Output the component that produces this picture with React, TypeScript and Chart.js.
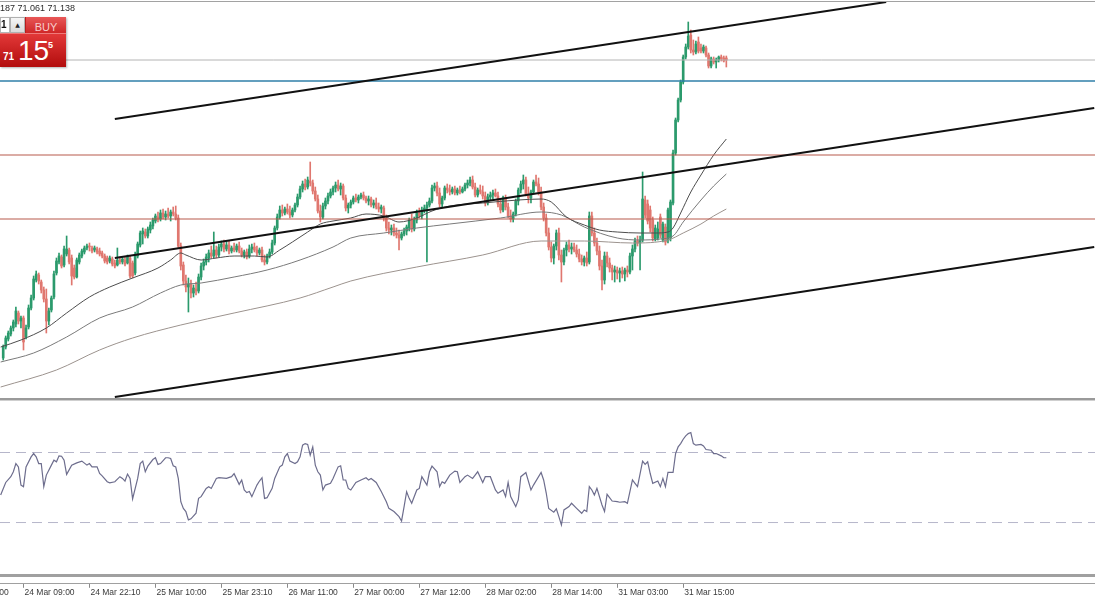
import React, { useEffect, useRef } from 'react';
import { Chart, registerables } from 'chart.js';

Chart.register(...registerables);

// ---- axis range (bar index units, M30 bars) ----
const X_MIN = -1.26;
const X_MAX = 430.3;
const PRICE_MIN = 67.77;
const PRICE_MAX = 71.75;

// ---- time axis ----
const tickBars = [-18, 8, 34, 60, 86, 112, 138, 164, 190, 216, 242, 268];
const tickLabels = [
  '23 Mar 20:00', '24 Mar 09:00', '24 Mar 22:10', '25 Mar 10:00', '25 Mar 23:10', '26 Mar 11:00',
  '27 Mar 00:00', '27 Mar 12:00', '28 Mar 02:00', '28 Mar 14:00', '31 Mar 03:00', '31 Mar 15:00',
];

// ---- candles (bar 0 .. 285) ----
const barOpen = [
  68.17, 68.28, 68.36, 68.41, 68.47, 68.51, 68.62, 68.54, 68.57, 68.38,
  68.48, 68.67, 68.77, 68.95, 69.00, 68.93, 68.85, 68.76, 68.54, 68.65,
  68.78, 69.02, 69.13, 69.18, 69.10, 69.21, 69.25, 69.17, 69.07, 68.98,
  69.13, 69.19, 69.23, 69.27, 69.29, 69.27, 69.25, 69.26, 69.24, 69.22,
  69.19, 69.17, 69.14, 69.16, 69.12, 69.10, 69.15, 69.13, 69.15, 69.12,
  69.17, 69.12, 69.02, 69.19, 69.30, 69.41, 69.43, 69.39, 69.45, 69.49,
  69.54, 69.58, 69.56, 69.62, 69.58, 69.61, 69.59, 69.63, 69.61, 69.57,
  69.29, 69.10, 68.94, 68.88, 68.91, 68.82, 68.86, 68.84, 68.98, 69.09,
  69.13, 69.17, 69.22, 69.19, 69.25, 69.20, 69.28, 69.31, 69.26, 69.30,
  69.24, 69.27, 69.25, 69.29, 69.24, 69.20, 69.23, 69.19, 69.26, 69.28,
  69.25, 69.22, 69.25, 69.15, 69.13, 69.19, 69.23, 69.32, 69.47, 69.58,
  69.65, 69.62, 69.66, 69.63, 69.60, 69.65, 69.70, 69.78, 69.86, 69.91,
  69.88, 69.94, 69.92, 69.84, 69.76, 69.64, 69.58, 69.69, 69.74, 69.79,
  69.83, 69.87, 69.90, 69.86, 69.89, 69.77, 69.67, 69.70, 69.73, 69.77,
  69.75, 69.78, 69.80, 69.77, 69.74, 69.76, 69.70, 69.72, 69.68, 69.66,
  69.67, 69.57, 69.47, 69.45, 69.47, 69.42, 69.40, 69.37, 69.41, 69.44,
  69.47, 69.55, 69.46, 69.55, 69.62, 69.59, 69.65, 69.67, 69.70, 69.74,
  69.87, 69.89, 69.82, 69.71, 69.77, 69.87, 69.85, 69.83, 69.86, 69.82,
  69.85, 69.83, 69.86, 69.90, 69.92, 69.95, 69.88, 69.80, 69.85, 69.83,
  69.79, 69.72, 69.78, 69.80, 69.82, 69.79, 69.71, 69.65, 69.77, 69.68,
  69.59, 69.56, 69.61, 69.74, 69.85, 69.91, 69.95, 69.81, 69.77, 69.83,
  69.93, 69.91, 69.83, 69.68, 69.57, 69.42, 69.28, 69.17, 69.29, 69.42,
  69.20, 69.13, 69.25, 69.30, 69.26, 69.28, 69.25, 69.21, 69.16, 69.13,
  69.17, 69.13, 69.59, 69.42, 69.32, 69.24, 69.09, 68.95, 69.19, 69.12,
  69.07, 69.03, 69.05, 69.02, 69.04, 69.01, 69.05, 69.03, 69.19, 69.26,
  69.34, 69.32, 69.35, 69.75, 69.71, 69.65, 69.55, 69.36, 69.37, 69.58,
  69.35, 69.48, 69.35, 69.37, 69.72, 70.22, 70.55, 70.75, 70.93, 71.18,
  71.28, 71.40, 71.25, 71.23, 71.33, 71.27, 71.24, 71.27, 71.20, 71.09,
  71.16, 71.13, 71.15, 71.18, 71.17, 71.17,
];
const barHigh = [
  68.30, 68.39, 68.44, 68.49, 68.55, 68.68, 68.64, 68.59, 68.59, 68.50,
  68.70, 68.80, 68.99, 69.04, 69.02, 68.95, 68.88, 68.86, 68.67, 68.79,
  69.04, 69.17, 69.22, 69.20, 69.29, 69.39, 69.27, 69.20, 69.10, 69.17,
  69.22, 69.26, 69.29, 69.31, 69.32, 69.29, 69.29, 69.28, 69.27, 69.24,
  69.21, 69.19, 69.19, 69.18, 69.15, 69.27, 69.18, 69.18, 69.18, 69.20,
  69.19, 69.14, 69.23, 69.33, 69.44, 69.47, 69.46, 69.48, 69.53, 69.57,
  69.61, 69.63, 69.65, 69.66, 69.64, 69.67, 69.65, 69.68, 69.69, 69.60,
  69.32, 69.13, 69.00, 68.97, 68.95, 68.90, 68.93, 69.01, 69.12, 69.16,
  69.21, 69.25, 69.29, 69.43, 69.29, 69.31, 69.34, 69.35, 69.33, 69.34,
  69.29, 69.32, 69.31, 69.33, 69.27, 69.25, 69.26, 69.30, 69.31, 69.32,
  69.29, 69.27, 69.28, 69.20, 69.21, 69.26, 69.35, 69.49, 69.61, 69.69,
  69.70, 69.68, 69.71, 69.69, 69.67, 69.72, 69.81, 69.89, 69.94, 69.96,
  69.98, 70.13, 69.95, 69.88, 69.80, 69.70, 69.72, 69.77, 69.82, 69.86,
  69.89, 69.93, 69.95, 69.92, 69.91, 69.80, 69.72, 69.75, 69.79, 69.81,
  69.80, 69.82, 69.83, 69.79, 69.79, 69.78, 69.75, 69.77, 69.72, 69.70,
  69.69, 69.60, 69.53, 69.50, 69.51, 69.47, 69.45, 69.43, 69.47, 69.50,
  69.57, 69.61, 69.58, 69.65, 69.67, 69.68, 69.70, 69.73, 69.77, 69.90,
  69.92, 69.93, 69.87, 69.79, 69.89, 69.91, 69.90, 69.88, 69.89, 69.87,
  69.89, 69.88, 69.92, 69.95, 69.98, 69.99, 69.92, 69.87, 69.90, 69.89,
  69.83, 69.81, 69.83, 69.85, 69.86, 69.83, 69.75, 69.79, 69.80, 69.72,
  69.65, 69.63, 69.76, 69.87, 69.94, 70.00, 69.98, 69.88, 69.85, 69.95,
  70.00, 69.97, 69.88, 69.72, 69.61, 69.47, 69.33, 69.31, 69.45, 69.47,
  69.25, 69.27, 69.33, 69.35, 69.32, 69.32, 69.30, 69.26, 69.20, 69.19,
  69.23, 69.63, 69.63, 69.47, 69.37, 69.29, 69.15, 69.23, 69.23, 69.17,
  69.10, 69.09, 69.08, 69.07, 69.08, 69.07, 69.09, 69.22, 69.30, 69.37,
  69.39, 69.39, 70.03, 69.79, 69.75, 69.69, 69.58, 69.50, 69.53, 69.61,
  69.53, 69.51, 69.67, 69.75, 70.25, 70.57, 70.77, 70.95, 71.20, 71.31,
  71.53, 71.45, 71.35, 71.34, 71.38, 71.31, 71.30, 71.29, 71.22, 71.18,
  71.18, 71.17, 71.19, 71.20, 71.19, 71.19,
];
const barLow = [
  68.15, 68.26, 68.34, 68.39, 68.44, 68.48, 68.51, 68.47, 68.25, 68.36,
  68.46, 68.65, 68.75, 68.93, 68.91, 68.82, 68.73, 68.42, 68.50, 68.63,
  68.76, 69.00, 69.11, 69.07, 69.08, 69.19, 69.11, 68.90, 68.96, 68.97,
  69.11, 69.17, 69.21, 69.25, 69.24, 69.22, 69.23, 69.21, 69.19, 69.17,
  69.12, 69.11, 69.12, 69.09, 69.07, 69.09, 69.11, 69.11, 69.09, 69.11,
  68.97, 68.97, 69.00, 69.17, 69.28, 69.31, 69.37, 69.37, 69.42, 69.46,
  69.52, 69.53, 69.54, 69.56, 69.55, 69.57, 69.54, 69.59, 69.55, 69.27,
  69.05, 68.90, 68.83, 68.63, 68.77, 68.78, 68.80, 68.82, 68.95, 69.05,
  69.10, 69.13, 69.17, 69.17, 69.17, 69.18, 69.24, 69.23, 69.24, 69.21,
  69.22, 69.23, 69.23, 69.22, 69.18, 69.17, 69.16, 69.17, 69.22, 69.23,
  69.19, 69.20, 69.13, 69.10, 69.11, 69.17, 69.21, 69.30, 69.45, 69.56,
  69.59, 69.60, 69.61, 69.57, 69.58, 69.63, 69.68, 69.76, 69.83, 69.85,
  69.86, 69.89, 69.81, 69.74, 69.62, 69.53, 69.56, 69.66, 69.71, 69.77,
  69.80, 69.83, 69.84, 69.80, 69.75, 69.64, 69.62, 69.67, 69.71, 69.73,
  69.72, 69.76, 69.75, 69.72, 69.70, 69.68, 69.67, 69.66, 69.63, 69.62,
  69.54, 69.44, 69.41, 69.40, 69.39, 69.37, 69.25, 69.35, 69.39, 69.40,
  69.44, 69.43, 69.44, 69.52, 69.57, 69.56, 69.62, 69.13, 69.68, 69.72,
  69.84, 69.79, 69.68, 69.68, 69.75, 69.82, 69.80, 69.81, 69.80, 69.80,
  69.81, 69.82, 69.84, 69.87, 69.89, 69.86, 69.78, 69.78, 69.81, 69.76,
  69.69, 69.70, 69.75, 69.76, 69.78, 69.68, 69.62, 69.63, 69.65, 69.57,
  69.53, 69.53, 69.59, 69.70, 69.82, 69.86, 69.79, 69.72, 69.72, 69.81,
  69.89, 69.80, 69.65, 69.54, 69.39, 69.25, 69.13, 69.11, 69.25, 69.15,
  68.93, 69.10, 69.19, 69.23, 69.21, 69.23, 69.18, 69.13, 69.10, 69.09,
  69.09, 69.11, 69.39, 69.29, 69.20, 69.05, 68.85, 68.91, 69.08, 69.03,
  68.95, 68.93, 68.96, 68.93, 68.97, 68.94, 68.98, 69.01, 69.05, 69.23,
  69.29, 69.05, 69.33, 69.57, 69.51, 69.43, 69.34, 69.34, 69.35, 69.37,
  69.33, 69.30, 69.32, 69.34, 69.70, 70.20, 70.53, 70.73, 70.91, 71.16,
  71.26, 71.22, 71.20, 71.21, 71.22, 71.22, 71.22, 71.18, 71.07, 71.07,
  71.11, 71.07, 71.13, 71.14, 71.13, 71.08,
];
const barClose = [
  68.28, 68.37, 68.42, 68.47, 68.53, 68.64, 68.54, 68.57, 68.33, 68.47,
  68.67, 68.77, 68.96, 69.01, 68.94, 68.85, 68.76, 68.54, 68.64, 68.77,
  69.01, 69.14, 69.19, 69.09, 69.26, 69.26, 69.13, 68.99, 68.98, 69.15,
  69.20, 69.24, 69.27, 69.29, 69.28, 69.24, 69.27, 69.23, 69.21, 69.19,
  69.14, 69.13, 69.17, 69.11, 69.09, 69.15, 69.13, 69.16, 69.11, 69.18,
  68.99, 68.99, 69.20, 69.31, 69.42, 69.44, 69.39, 69.46, 69.50, 69.55,
  69.59, 69.56, 69.62, 69.58, 69.61, 69.59, 69.63, 69.61, 69.57, 69.29,
  69.09, 68.94, 68.88, 68.91, 68.82, 68.87, 68.84, 68.98, 69.09, 69.13,
  69.18, 69.22, 69.19, 69.25, 69.20, 69.28, 69.31, 69.26, 69.30, 69.24,
  69.27, 69.25, 69.29, 69.24, 69.20, 69.23, 69.18, 69.26, 69.28, 69.25,
  69.22, 69.25, 69.15, 69.13, 69.19, 69.23, 69.32, 69.47, 69.58, 69.65,
  69.62, 69.66, 69.63, 69.60, 69.65, 69.70, 69.78, 69.86, 69.91, 69.88,
  69.95, 69.92, 69.84, 69.76, 69.64, 69.58, 69.69, 69.74, 69.79, 69.83,
  69.87, 69.90, 69.86, 69.89, 69.77, 69.67, 69.70, 69.73, 69.77, 69.75,
  69.78, 69.80, 69.77, 69.74, 69.76, 69.70, 69.72, 69.68, 69.66, 69.68,
  69.57, 69.47, 69.45, 69.47, 69.42, 69.40, 69.37, 69.41, 69.44, 69.48,
  69.55, 69.46, 69.55, 69.62, 69.59, 69.65, 69.67, 69.70, 69.74, 69.87,
  69.89, 69.82, 69.71, 69.77, 69.87, 69.85, 69.83, 69.86, 69.82, 69.85,
  69.83, 69.86, 69.90, 69.92, 69.95, 69.88, 69.80, 69.85, 69.83, 69.79,
  69.72, 69.78, 69.80, 69.82, 69.79, 69.71, 69.65, 69.77, 69.68, 69.59,
  69.56, 69.61, 69.74, 69.85, 69.91, 69.95, 69.81, 69.77, 69.83, 69.93,
  69.91, 69.83, 69.68, 69.57, 69.42, 69.28, 69.17, 69.29, 69.42, 69.20,
  69.13, 69.25, 69.30, 69.26, 69.28, 69.25, 69.21, 69.16, 69.13, 69.17,
  69.12, 69.59, 69.42, 69.32, 69.24, 69.09, 68.95, 69.19, 69.12, 69.07,
  69.03, 69.05, 69.02, 69.04, 69.01, 69.05, 69.03, 69.19, 69.26, 69.34,
  69.32, 69.35, 69.76, 69.60, 69.54, 69.47, 69.37, 69.47, 69.46, 69.40,
  69.51, 69.33, 69.65, 69.73, 70.22, 70.55, 70.75, 70.93, 71.18, 71.28,
  71.39, 71.25, 71.23, 71.31, 71.24, 71.24, 71.28, 71.20, 71.09, 71.16,
  71.13, 71.15, 71.18, 71.16, 71.14, 71.15,
];

// ---- moving averages (bar index, price) ----
const maFastBars = [-1, 7, 17, 25, 34, 42, 51, 61, 66, 70, 72, 78, 84, 91, 99, 104, 109, 114, 120, 125, 130, 137, 143, 150, 156, 163, 169, 176, 189, 203, 212, 216, 222, 229, 235, 242, 251, 257, 262, 264, 267, 271, 275, 280, 285];
const maFast = [68.28, 68.35, 68.47, 68.62, 68.78, 68.88, 68.97, 69.07, 69.15, 69.22, 69.20, 69.15, 69.17, 69.19, 69.19, 69.18, 69.25, 69.33, 69.43, 69.51, 69.54, 69.57, 69.61, 69.59, 69.53, 69.57, 69.64, 69.69, 69.72, 69.75, 69.76, 69.73, 69.58, 69.50, 69.45, 69.43, 69.42, 69.42, 69.43, 69.47, 69.62, 69.83, 70.00, 70.20, 70.36];
const maMidBars = [-1, 12, 25, 38, 51, 62, 70, 78, 91, 104, 117, 130, 137, 150, 163, 176, 196, 212, 220, 229, 242, 251, 259, 264, 268, 275, 280, 285];
const maMid = [68.13, 68.22, 68.38, 68.57, 68.68, 68.82, 68.90, 68.92, 68.98, 69.05, 69.15, 69.28, 69.37, 69.42, 69.47, 69.51, 69.57, 69.63, 69.60, 69.48, 69.37, 69.35, 69.36, 69.39, 69.53, 69.75, 69.89, 70.01];
const maSlowBars = [-1, 21, 38, 51, 70, 91, 117, 130, 137, 163, 189, 212, 229, 248, 262, 268, 275, 280, 285];
const maSlow = [67.88, 68.05, 68.25, 68.37, 68.50, 68.62, 68.77, 68.88, 68.94, 69.08, 69.20, 69.34, 69.34, 69.32, 69.35, 69.42, 69.51, 69.59, 69.66];

// ---- channel trend lines (start/end bar, start/end price) ----
const upperLineBars = [44, 348];
const upperLinePrices = [70.56, 71.73];
const midLineBars = [44, 430];
const midLinePrices = [69.17, 70.67];
const lowLineBars = [44, 430];
const lowLinePrices = [67.78, 69.28];

// ---- horizontal price levels: bid, blue, red, red ----
const levelPrices = [71.15, 70.94, 70.20, 69.56];

// ---- RSI ----
const rsiBars = [
  -1, 1, 3, 4, 5, 6, 7, 8, 9, 11, 12, 13, 14, 15, 16, 17, 19, 20, 21, 22,
  23, 24, 25, 27, 29, 31, 33, 34, 35, 37, 38, 39, 41, 42, 44, 46, 47, 48, 49, 50,
  51, 53, 54, 55, 56, 57, 59, 60, 61, 62, 64, 65, 66, 67, 68, 69, 70, 71, 72, 73,
  74, 76, 77, 78, 80, 81, 82, 84, 85, 88, 90, 91, 93, 94, 95, 96, 97, 98, 100, 101,
  102, 103, 104, 106, 107, 109, 110, 111, 112, 113, 115, 116, 117, 118, 119, 120, 121, 122, 123, 124,
  125, 126, 127, 129, 130, 132, 133, 134, 135, 136, 137, 139, 141, 143, 144, 145, 147, 149, 151, 152,
  154, 156, 157, 158, 159, 160, 161, 163, 164, 165, 167, 168, 169, 171, 172, 173, 174, 176, 178, 179,
  180, 182, 183, 185, 186, 187, 189, 190, 192, 194, 195, 197, 198, 199, 200, 202, 203, 204, 206, 208,
  209, 212, 213, 214, 215, 217, 218, 219, 220, 221, 223, 224, 226, 228, 229, 230, 231, 232, 233, 234,
  236, 237, 238, 240, 242, 243, 245, 246, 247, 248, 249, 250, 252, 253, 254, 255, 256, 258, 259, 260,
  261, 262, 264, 265, 266, 267, 268, 269, 270, 271, 272, 273, 275, 276, 277, 279, 280, 281, 283, 284,
  285,
];
const rsiValues = [
  45.7, 52.9, 56.2, 59.0, 63.7, 61.8, 51.4, 50.5, 61.8, 67.5, 69.4, 67.5, 63.7, 63.7, 50.5, 57.1, 62.8, 65.6, 64.7, 68.1,
  67.9, 65.6, 57.5, 62.8, 64.1, 65.1, 62.8, 63.7, 61.8, 61.8, 58.1, 56.7, 53.3, 52.7, 53.3, 56.2, 55.2, 53.7, 57.7, 55.2,
  43.5, 55.2, 63.7, 65.1, 59.0, 62.2, 66.0, 67.0, 63.2, 63.7, 67.0, 67.0, 66.6, 62.4, 61.8, 55.2, 41.9, 38.1, 36.3, 31.5,
  32.1, 35.3, 43.8, 44.8, 49.5, 50.5, 49.5, 55.2, 55.6, 55.2, 56.2, 57.9, 51.8, 54.3, 48.6, 47.1, 47.7, 44.8, 51.4, 53.7,
  55.6, 43.8, 44.2, 49.5, 55.2, 61.8, 62.8, 67.5, 69.4, 65.1, 63.7, 64.7, 67.5, 74.2, 75.1, 74.6, 68.5, 73.2, 62.8, 59.0,
  57.1, 48.6, 51.4, 52.4, 55.2, 61.8, 62.4, 54.3, 54.3, 49.5, 48.6, 52.9, 54.3, 55.6, 54.3, 55.2, 52.9, 47.7, 41.9, 38.1,
  36.3, 33.4, 30.9, 39.1, 47.6, 43.8, 41.0, 48.6, 49.5, 56.2, 51.4, 59.0, 62.2, 59.0, 50.5, 53.3, 52.4, 57.1, 59.4, 59.0,
  52.9, 56.2, 57.1, 55.2, 57.1, 59.0, 52.9, 56.2, 56.2, 48.6, 46.7, 48.6, 44.8, 52.9, 44.8, 39.1, 42.9, 56.2, 58.6, 48.6,
  51.4, 58.6, 54.3, 47.0, 38.0, 35.9, 37.8, 33.4, 28.7, 37.2, 39.1, 41.0, 38.1, 35.3, 37.2, 36.3, 50.5, 48.6, 45.7, 49.5,
  40.0, 36.3, 46.1, 42.3, 41.9, 41.6, 41.9, 41.0, 47.6, 54.3, 52.4, 50.5, 65.1, 63.2, 64.7, 58.0, 52.4, 53.7, 50.5, 55.2,
  50.5, 58.6, 58.6, 69.4, 73.2, 75.1, 77.6, 79.5, 80.8, 81.4, 75.1, 74.2, 74.6, 73.8, 71.7, 71.3, 69.4, 69.4, 68.1, 67.0,
  67.0,
];
const rsiLevels = [70, 30];

const UP = '#2b9a6c';
const DOWN = '#e0776f';
const FONT = "'Liberation Sans', Arial, sans-serif";

const pts = (xs: number[], ys: number[]) => xs.map((x, k) => ({ x, y: ys[k] }));
const flat = (v: number) => [{ x: X_MIN, y: v }, { x: X_MAX, y: v }];

export default function App() {
  const priceRef = useRef<HTMLCanvasElement>(null);
  const rsiRef = useRef<HTMLCanvasElement>(null);

  useEffect(() => {
    const idx = barOpen.map((_, i) => i);
    const colors = idx.map((i) => (barClose[i] >= barOpen[i] ? UP : DOWN));
    const levelColors = ['#b4b4b4', '#2f7fa8', '#b85a4d', '#b85a4d'];
    const levelWidths = [1, 1.3, 1.2, 1.2];

    const lineDs = (data: any, color: string, width: number, order: number, extra: any = {}) => ({
      type: 'line' as const,
      data,
      borderColor: color,
      borderWidth: width,
      pointRadius: 0,
      fill: false,
      order,
      ...extra,
    });

    const priceChart = new Chart(priceRef.current as HTMLCanvasElement, {
      type: 'bar',
      data: {
        datasets: [
          {
            type: 'bar',
            data: idx.map((i) => ({ x: i, y: [barLow[i], barHigh[i]] })) as any,
            backgroundColor: colors,
            borderWidth: 0,
            barThickness: 1,
            grouped: false,
            order: 9,
          },
          {
            type: 'bar',
            data: idx.map((i) => ({ x: i, y: [barOpen[i], barClose[i]] })) as any,
            backgroundColor: colors,
            borderWidth: 0,
            barThickness: 2,
            minBarLength: 1,
            grouped: false,
            order: 8,
          },
          lineDs(pts(maSlowBars, maSlow), '#9c938e', 1, 7, { cubicInterpolationMode: 'monotone' }),
          lineDs(pts(maMidBars, maMid), '#7a7a7a', 1, 6, { cubicInterpolationMode: 'monotone' }),
          lineDs(pts(maFastBars, maFast), '#4d4d4d', 1, 5, { cubicInterpolationMode: 'monotone' }),
          ...levelPrices.map((p, k) => lineDs(flat(p), levelColors[k], levelWidths[k], 4)),
          lineDs(pts(upperLineBars, upperLinePrices), '#111111', 2, 1),
          lineDs(pts(midLineBars, midLinePrices), '#111111', 2, 1),
          lineDs(pts(lowLineBars, lowLinePrices), '#111111', 2, 1),
        ] as any,
      },
      options: {
        responsive: false,
        maintainAspectRatio: false,
        animation: false,
        events: [],
        layout: { padding: 0 },
        plugins: { legend: { display: false }, tooltip: { enabled: false } },
        scales: {
          x: { type: 'linear', min: X_MIN, max: X_MAX, display: false, offset: false },
          y: { type: 'linear', min: PRICE_MIN, max: PRICE_MAX, display: false },
        },
      } as any,
    });

    const rsiChart = new Chart(rsiRef.current as HTMLCanvasElement, {
      type: 'line',
      data: {
        datasets: [
          lineDs(pts(rsiBars, rsiValues), '#6d6d8d', 1.2, 1),
          ...rsiLevels.map((v) => lineDs(flat(v), '#b6b6ca', 1, 2, { borderDash: [10, 6] })),
        ] as any,
      },
      options: {
        responsive: false,
        maintainAspectRatio: false,
        animation: false,
        events: [],
        layout: { padding: 0 },
        plugins: { legend: { display: false }, tooltip: { enabled: false } },
        scales: {
          x: {
            type: 'linear',
            min: X_MIN,
            max: X_MAX,
            position: 'bottom',
            afterBuildTicks: (axis: any) => {
              axis.ticks = tickBars.map((v) => ({ value: v }));
            },
            afterFit: (axis: any) => {
              axis.paddingLeft = 0;
              axis.paddingRight = 0;
            },
            ticks: {
              autoSkip: false,
              maxRotation: 0,
              minRotation: 0,
              align: 'start',
              padding: 0,
              labelOffset: 1,
              color: '#3a3a3a',
              font: { family: FONT, size: 8.5 },
              callback: (v: any) => {
                const k = tickBars.indexOf(Number(v));
                return k >= 0 ? tickLabels[k] : '';
              },
            },
            grid: {
              display: true,
              drawOnChartArea: false,
              drawTicks: true,
              tickLength: 4,
              color: '#8a8a8a',
              tickColor: '#8a8a8a',
            },
            border: { display: true, color: '#a0a0a0', width: 1 },
          },
          y: { type: 'linear', min: -5, max: 100, display: false },
        },
      } as any,
    });

    return () => {
      priceChart.destroy();
      rsiChart.destroy();
    };
  }, []);

  const abs = (s: React.CSSProperties): React.CSSProperties => ({ position: 'absolute', ...s });

  return (
    <div style={{ position: 'fixed', left: 0, top: 0, width: 1095, height: 600, background: '#fff', overflow: 'hidden', fontFamily: FONT }}>
      <canvas ref={priceRef} width={1095} height={398} style={abs({ left: 0, top: 0, display: 'block' })} />
      <canvas ref={rsiRef} width={1095} height={198} style={abs({ left: 0, top: 400, display: 'block' })} />

      {/* frame / window separators */}
      <div style={abs({ left: 0, top: 1, width: 1095, height: 1, background: '#a2a2a2' })} />
      <div style={abs({ left: 0, top: 398, width: 1095, height: 2, background: '#9a9a9a' })} />
      <div style={abs({ left: 0, top: 400, width: 1095, height: 1, background: '#cfcfcf' })} />
      <div style={abs({ left: 0, top: 574, width: 1095, height: 3, background: '#a0a0a0' })} />

      {/* header text */}
      <div style={abs({ left: 0, top: 3, fontSize: 9, lineHeight: '10px', color: '#2a2a2a', whiteSpace: 'nowrap' })}>187 71.061 71.138</div>

      {/* one-click trading widget */}
      <div style={abs({ left: 0, top: 17, width: 66, height: 50, boxShadow: '1px 1px 2px rgba(0,0,0,0.3)' })}>
        <div style={abs({ left: 0, top: 0, width: 10, height: 16, background: '#fff', border: '1px solid #b5b5b5', boxSizing: 'border-box', overflow: 'hidden' })}>
          <span style={abs({ left: 0, top: 2, fontSize: 10, fontWeight: 'bold', lineHeight: '10px', color: '#111' })}>1</span>
        </div>
        <div style={abs({ left: 10, top: 0, width: 15, height: 16, background: 'linear-gradient(#f6f6f6, #dadada)', border: '1px solid #b0b0b0', boxSizing: 'border-box', textAlign: 'center', fontFamily: "'DejaVu Sans', sans-serif", fontSize: 6, lineHeight: '14px', color: '#222' })}>▲</div>
        <div style={abs({ left: 25, top: 0, width: 41, height: 16, background: 'linear-gradient(#e85757, #cf2727)', borderLeft: '1px solid #b81d1d', boxSizing: 'border-box' })}>
          <span style={abs({ left: 0, width: 40, top: 4.5, textAlign: 'center', fontSize: 11, lineHeight: '11px', color: '#f7cccc' })}>BUY</span>
        </div>
        <div style={abs({ left: 0, top: 16, width: 66, height: 34, background: 'linear-gradient(#e23838, #b20d0d)', borderTop: '1px solid #ef7a7a', boxSizing: 'border-box' })}>
          <span style={abs({ left: 3, top: 18, fontSize: 10, fontWeight: 'bold', lineHeight: '10px', color: '#fff' })}>71</span>
          <span style={abs({ left: 18, top: 3, fontSize: 28, lineHeight: '28px', color: '#fff' })}>15</span>
          <span style={abs({ left: 48, top: 6.5, fontSize: 9, fontWeight: 'bold', lineHeight: '9px', color: '#fff' })}>5</span>
        </div>
      </div>
    </div>
  );
}
